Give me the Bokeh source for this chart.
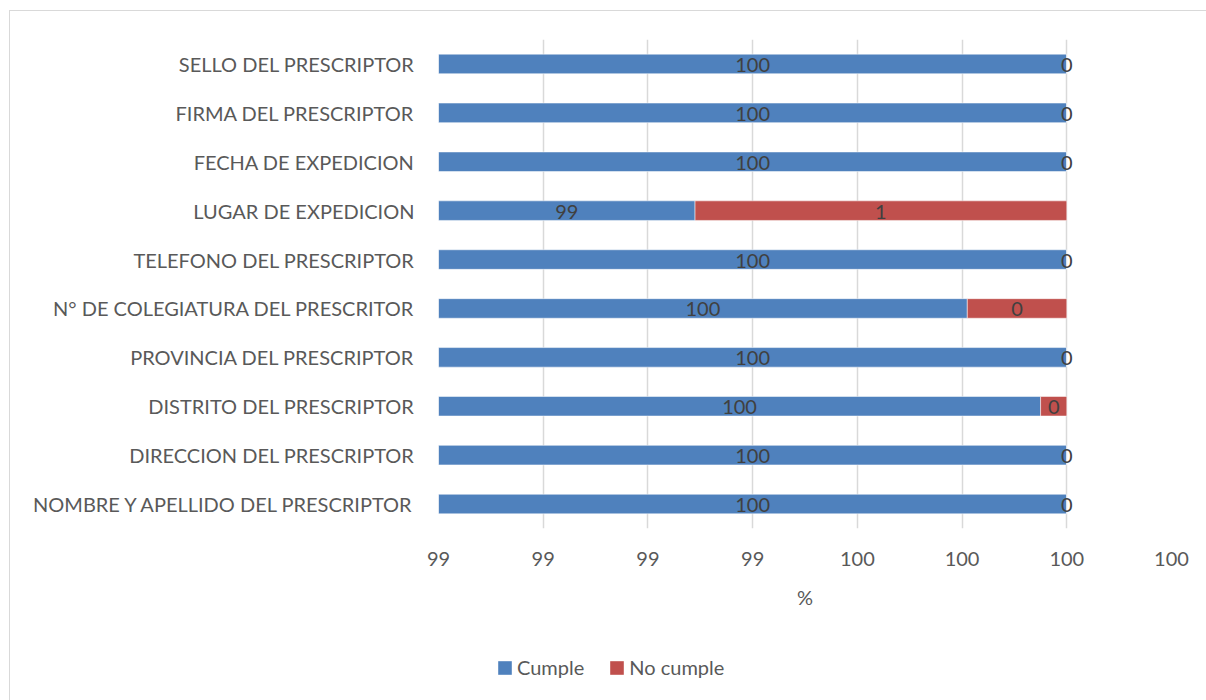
from bokeh.plotting import figure
from bokeh.layouts import column
from bokeh.models import ColumnDataSource, FactorRange, FixedTicker, Legend, LegendItem, Range1d
from bokeh.core.properties import value
from bokeh.embed import file_html
from bokeh.resources import INLINE

# Data (top to bottom, as read)
categories = [
    "SELLO DEL PRESCRIPTOR",
    "FIRMA DEL PRESCRIPTOR",
    "FECHA DE EXPEDICION",
    "LUGAR DE EXPEDICION",
    "TELEFONO DEL PRESCRIPTOR",
    "N° DE COLEGIATURA DEL PRESCRITOR",
    "PROVINCIA DEL PRESCRIPTOR",
    "DISTRITO DEL PRESCRIPTOR",
    "DIRECCION DEL PRESCRIPTOR",
    "NOMBRE Y APELLIDO DEL PRESCRIPTOR",
]
cumple = [100, 100, 100, 99.29, 100, 99.81, 100, 99.95, 100, 100]
no_cumple = [0, 0, 0, 0.71, 0, 0.19, 0, 0.05, 0, 0]
series_names = ["Cumple", "No cumple"]
tick_values = [98.8, 99.0, 99.2, 99.4, 99.6, 99.8, 100.0, 100.2]
tick_labels = ["99", "99", "99", "99", "100", "100", "100", "100"]
axis_title = "%"

BLUE = "#4F81BD"
RED = "#C0504D"
FONT = "Lato"
colors = [BLUE, RED]

x_min, x_max = tick_values[0], tick_values[-1]

ends = [c + n for c, n in zip(cumple, no_cumple)]
src = ColumnDataSource(dict(
    cat=categories,
    cumple=cumple,
    no_cumple=no_cumple,
    end=ends,
    zero=[0] * len(categories),
    lab_c=[str(round(v)) for v in cumple],
    lab_n=[str(round(v)) for v in no_cumple],
    xc=[(max(0, x_min) + c) / 2 for c in cumple],
    xn=[(max(c, x_min) + e) / 2 for c, e in zip(cumple, ends)],
))

W = 1196
p = figure(
    width=W, height=620,
    y_range=FactorRange(factors=list(reversed(categories))),
    x_range=Range1d(x_min, x_max),
    output_backend="svg", toolbar_location=None,
    min_border_left=428, min_border_right=35, min_border_top=28, min_border_bottom=103,
)
p.outline_line_color = None
p.background_fill_color = "white"

r1 = p.hbar(y="cat", left="zero", right="cumple", height=0.40, source=src,
            fill_color=colors[0], line_color="white", line_alpha=0.5, line_width=1)
r2 = p.hbar(y="cat", left="cumple", right="end", height=0.40, source=src,
            fill_color=colors[1], line_color="white", line_alpha=0.5, line_width=1)

p.text(x="xc", y="cat", text="lab_c", source=src, text_align="center", text_baseline="middle",
       text_font=value(FONT), text_font_size="20px", text_color="#404040", y_offset=1)
p.text(x="xn", y="cat", text="lab_n", source=src, text_align="center", text_baseline="middle",
       text_font=value(FONT), text_font_size="20px", text_color="#404040", y_offset=1)

# axes
p.xaxis.ticker = FixedTicker(ticks=tick_values)
p.xaxis.major_label_overrides = {v: l for v, l in zip(tick_values, tick_labels)}
p.xaxis.axis_label = axis_title
p.xaxis.axis_label_text_font = FONT
p.xaxis.axis_label_text_font_size = "20px"
p.xaxis.axis_label_text_font_style = "normal"
p.xaxis.axis_label_text_color = "#595959"
p.xaxis.axis_label_standoff = 16
p.xaxis.major_label_text_font = FONT
p.xaxis.major_label_text_font_size = "20px"
p.xaxis.major_label_text_color = "#595959"
p.xaxis.major_label_standoff = 23
p.xaxis.axis_line_color = None
p.xaxis.major_tick_line_color = None
p.xaxis.minor_tick_line_color = None
p.xaxis.major_tick_out = 0
p.xaxis.major_tick_in = 0

p.yaxis.major_label_text_font = FONT
p.yaxis.major_label_text_font_size = "20px"
p.yaxis.major_label_text_color = "#595959"
p.yaxis.major_label_standoff = 24
p.yaxis.axis_line_color = None
p.yaxis.major_tick_line_color = None
p.yaxis.major_tick_out = 0
p.yaxis.major_tick_in = 0

p.xgrid.grid_line_color = "#D9D9D9"
p.xgrid.grid_line_width = 1.5
p.ygrid.grid_line_color = None

# legend strip below the chart (swatch renderers sit outside the visible range)
pl = figure(width=W, height=69, x_range=Range1d(0, 1), y_range=Range1d(0, 1),
            x_axis_type=None, y_axis_type=None, output_backend="svg", toolbar_location=None,
            min_border=0)
pl.outline_line_color = None
pl.grid.visible = False
swatch = ColumnDataSource(dict(l=[5], r=[6], b=[5], t=[6]))
l1 = pl.quad(left="l", right="r", bottom="b", top="t", source=swatch,
             fill_color=colors[0], line_color=None)
l2 = pl.quad(left="l", right="r", bottom="b", top="t", source=swatch,
             fill_color=colors[1], line_color=None)
legend = Legend(
    items=[LegendItem(label=series_names[0], renderers=[l1]),
           LegendItem(label=series_names[1], renderers=[l2])],
    orientation="horizontal", location=(58, 21),
    label_text_font=FONT, label_text_font_size="20px", label_text_color="#595959",
    glyph_width=17, glyph_height=17, label_standoff=4, spacing=24,
    padding=0, margin=0, border_line_color=None, background_fill_alpha=0,
)
pl.add_layout(legend, "center")

layout = column(p, pl, spacing=0)
layout.styles = {"margin-left": "9px", "margin-top": "10px",
                 "border-left": "1px solid #D9D9D9", "border-top": "1px solid #D9D9D9"}

open("out.html", "w").write(file_html(layout, INLINE))
